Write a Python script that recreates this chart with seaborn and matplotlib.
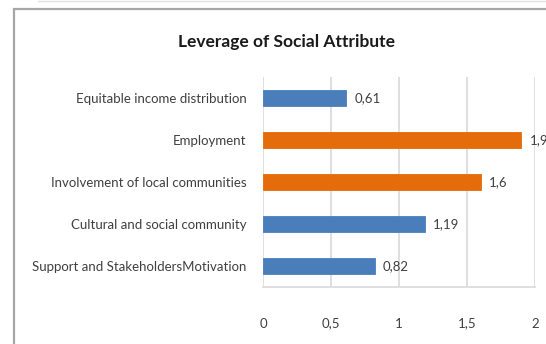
import matplotlib
matplotlib.use('Agg')
import matplotlib.pyplot as plt
import pandas as pd
import seaborn as sns
from matplotlib.patches import Rectangle
from matplotlib.lines import Line2D

sns.set_style('white')
plt.rcParams['font.family'] = ['Lato', 'DejaVu Sans']

categories = ['Equitable income distribution', 'Employment',
              'Involvement of local communities', 'Cultural and social community',
              'Support and StakeholdersMotivation']
values = [0.61, 1.9, 1.6, 1.19, 0.82]
labels = ['0,61', '1,9', '1,6', '1,19', '0,82']
bar_colors = ['#4a7ebb', '#e46c0a', '#e46c0a', '#4a7ebb', '#4a7ebb']
xticks = [0, 0.5, 1, 1.5, 2]
xticklabels = ['0', '0,5', '1', '1,5', '2']

df = pd.DataFrame({'attribute': categories, 'leverage': values})

fig = plt.figure(figsize=(5.46, 3.44), dpi=100)
ax = fig.add_axes([263 / 546, 1 - 287 / 344, (535 - 263) / 546, (287 - 77) / 344])

sns.barplot(data=df, x='leverage', y='attribute', hue='attribute', palette=bar_colors,
            legend=False, width=0.38, orient='h', ax=ax, saturation=1)
for p, c in zip(ax.patches, bar_colors):
    p.set_edgecolor(c)
    p.set_linewidth(0.6)

for cont, lab in zip(ax.containers, labels):
    ax.bar_label(cont, labels=[lab], padding=6, fontsize=9.5, color='#404040', clip_on=False)

ax.set_xlim(0, 2)
ax.set_ylim(4.5, -0.5)
ax.set_xticks(xticks)
ax.set_xticklabels(xticklabels)
ax.tick_params(axis='x', length=0, pad=22, labelsize=9.5, labelcolor='#404040')
ax.tick_params(axis='y', length=0, pad=12, labelsize=9.5, labelcolor='#404040')
ax.set_xlabel('')
ax.set_ylabel('')
ax.grid(axis='x', color='#d9d9d9', linewidth=1.2)
ax.set_axisbelow(True)
for s in ['top', 'right', 'left']:
    ax.spines[s].set_visible(False)
ax.spines['bottom'].set_color('#d9d9d9')
ax.spines['bottom'].set_linewidth(1.2)

fig.text(287 / 546, 1 - 42 / 344, 'Leverage of Social Attribute', ha='center', va='center',
         fontsize=12.5, fontweight='bold', color='#1a1a1a')

# outer chart frame, cut off at right and bottom
fig.patches.append(Rectangle((13.5 / 546, -0.1), 1.2, 1 - 8.5 / 344 + 0.1,
                             transform=fig.transFigure, fill=False,
                             edgecolor='#a6a6a6', linewidth=1.6))
fig.lines.append(Line2D([0.07, 1], [1 - 1 / 344, 1 - 1 / 344], transform=fig.transFigure,
                        color='#e0e0e0', linewidth=1))

fig.savefig('out.png', dpi=100)
